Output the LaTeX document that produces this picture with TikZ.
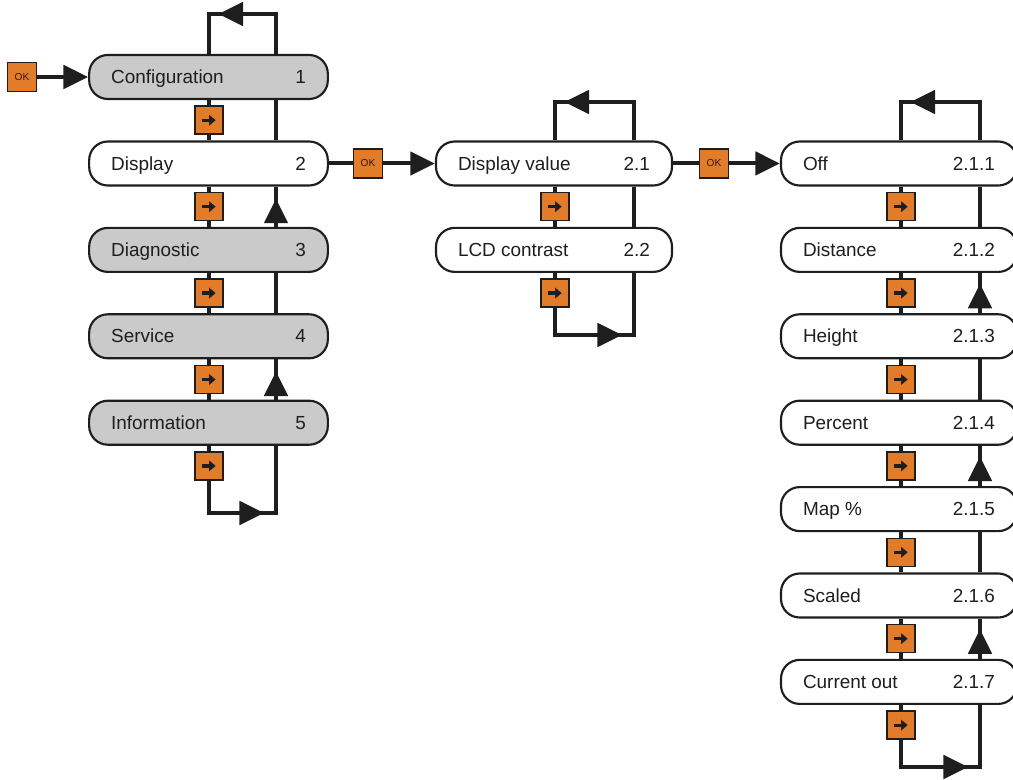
\documentclass[tikz,border=0pt]{standalone}
\usepackage{fontspec}
\setmainfont{Liberation Sans}
\usetikzlibrary{arrows.meta,decorations.markings}
\definecolor{orng}{RGB}{226,124,40}
\definecolor{boxgray}{RGB}{202,202,202}
\definecolor{ink}{RGB}{30,30,30}
\newcommand{\mitem}[3]{\makebox[#1]{#2\hfill#3}}
\begin{document}
\begin{tikzpicture}[x=0.75pt,y=-0.75pt,
  menu/.style={draw=ink, line width=1.6pt, rounded corners=14pt, minimum height=33pt,
    inner xsep=16.5pt, inner ysep=0pt, fill=white, text=ink,
    text height=12.5pt, text depth=2.5pt, font=\fontsize{14.2}{16}\selectfont},
  grey/.style={fill=boxgray},
  conn/.style={draw=ink, line width=3pt},
  bigtip/.tip={Triangle[length=18.5pt,width=17.5pt]},
  tipat/.style={postaction={decorate}, decoration={markings, mark=at position #1 with {\arrow[ink]{bigtip}}}},
  osq/.style={draw=ink, line width=1.1pt, fill=orng, minimum size=21pt, inner sep=0pt,
    path picture={\draw[ink, line width=2.4pt, -{Triangle[length=5pt,width=8pt]}]
      ([xshift=-5.2pt]path picture bounding box.center) -- ([xshift=5pt]path picture bounding box.center);}},
  okbox/.style={draw=ink, line width=1.1pt, fill=orng, minimum size=21.5pt, inner sep=0pt,
    font=\fontsize{7.6}{8}\selectfont, text=ink}
]
\useasboundingbox (0,0) rectangle (1013,780);
\fill[white] (0,0) rectangle (1013,780);

% left column
\node[menu,grey] (cfg)  at (208.5,77)    {\mitem{146pt}{Configuration}{1}};
\node[menu]      (disp) at (208.5,163.5) {\mitem{146pt}{Display}{2}};
\node[menu,grey] (diag) at (208.5,249.9) {\mitem{146pt}{Diagnostic}{3}};
\node[menu,grey] (serv) at (208.5,336.3) {\mitem{146pt}{Service}{4}};
\node[menu,grey] (info) at (208.5,422.7) {\mitem{146pt}{Information}{5}};

% middle column
\node[menu] (dv)  at (554,163.5) {\mitem{144pt}{Display value}{2.1}};
\node[menu] (lcd) at (554,249.9) {\mitem{144pt}{LCD contrast}{2.2}};

% right column
\node[menu] (off)  at (899,163.5) {\mitem{144pt}{Off}{2.1.1}};
\node[menu] (dist) at (899,249.9) {\mitem{144pt}{Distance}{2.1.2}};
\node[menu] (hgt)  at (899,336.3) {\mitem{144pt}{Height}{2.1.3}};
\node[menu] (pct)  at (899,422.7) {\mitem{144pt}{Percent}{2.1.4}};
\node[menu] (map)  at (899,509.1) {\mitem{144pt}{Map \%}{2.1.5}};
\node[menu] (scl)  at (899,595.5) {\mitem{144pt}{Scaled}{2.1.6}};
\node[menu] (cur)  at (899,681.9) {\mitem{144pt}{Current out}{2.1.7}};

% OK boxes
\node[okbox] (ok1) at (22,77)    {OK};
\node[okbox] (ok2) at (368,163.5) {OK};
\node[okbox] (ok3) at (714,163.5) {OK};

% orange step squares
\node[osq] (sA) at (209,120.2) {};
\node[osq] (sB) at (209,206.7) {};
\node[osq] (sC) at (209,293.1) {};
\node[osq] (sD) at (209,379.5) {};
\node[osq] (sE) at (209,465.9) {};
\node[osq] (sF) at (555,206.7) {};
\node[osq] (sG) at (555,293.1) {};
\node[osq] (sH) at (901,206.7) {};
\node[osq] (sI) at (901,293.1) {};
\node[osq] (sJ) at (901,379.5) {};
\node[osq] (sK) at (901,465.9) {};
\node[osq] (sL) at (901,552.3) {};
\node[osq] (sM) at (901,638.7) {};
\node[osq] (sN) at (901,725.1) {};

% loop corners
\coordinate (R1) at (276,0);
\coordinate (R2) at (634,0);
\coordinate (R3) at (980,0);
\coordinate (lt1) at (276,14);  \coordinate (lt2) at (209,14);
\coordinate (lb1) at (209,513); \coordinate (lb2) at (276,513);
\coordinate (mt1) at (634,102); \coordinate (mt2) at (555,102);
\coordinate (mb1) at (555,335); \coordinate (mb2) at (634,335);
\coordinate (rt1) at (980,102); \coordinate (rt2) at (901,102);
\coordinate (rb1) at (901,767); \coordinate (rb2) at (980,767);

% entry arrows
\draw[conn,-bigtip] (ok1) -- (cfg.west);
\draw[conn] (disp.east) -- (ok2);
\draw[conn,-bigtip] (ok2) -- (dv.west);
\draw[conn] (dv.east) -- (ok3);
\draw[conn,-bigtip] (ok3) -- (off.west);

% left column steps
\draw[conn] (cfg.south -| sA) -- (sA);  \draw[conn] (sA) -- (disp.north -| sA);
\draw[conn] (disp.south -| sB) -- (sB); \draw[conn] (sB) -- (diag.north -| sB);
\draw[conn] (diag.south -| sC) -- (sC); \draw[conn] (sC) -- (serv.north -| sC);
\draw[conn] (serv.south -| sD) -- (sD); \draw[conn] (sD) -- (info.north -| sD);
\draw[conn] (info.south -| sE) -- (sE);
\draw[conn] (sE) -- (lb1) -- (lb2) -- (info.south -| lb2);
\draw[conn,tipat=-9pt] (lb1) -- (lb2);
\draw[conn,tipat=-9pt] (info.north -| R1) -- (serv.south -| R1);
\draw[conn] (serv.north -| R1) -- (diag.south -| R1);
\draw[conn,tipat=-9pt] (diag.north -| R1) -- (disp.south -| R1);
\draw[conn] (disp.north -| R1) -- (cfg.south -| R1);
\draw[conn] (cfg.north -| lt1) -- (lt1) -- (lt2) -- (cfg.north -| lt2);
\draw[conn,tipat=-7pt] (lt1) -- (lt2);

% middle column
\draw[conn] (dv.south -| sF) -- (sF); \draw[conn] (sF) -- (lcd.north -| sF);
\draw[conn] (lcd.south -| sG) -- (sG);
\draw[conn] (sG) -- (mb1) -- (mb2) -- (lcd.south -| mb2);
\draw[conn,tipat=-9pt] (mb1) -- (mb2);
\draw[conn] (lcd.north -| R2) -- (dv.south -| R2);
\draw[conn] (dv.north -| mt1) -- (mt1) -- (mt2) -- (dv.north -| mt2);
\draw[conn,tipat=-7pt] (mt1) -- (mt2);

% right column
\draw[conn] (off.south -| sH) -- (sH);  \draw[conn] (sH) -- (dist.north -| sH);
\draw[conn] (dist.south -| sI) -- (sI); \draw[conn] (sI) -- (hgt.north -| sI);
\draw[conn] (hgt.south -| sJ) -- (sJ);  \draw[conn] (sJ) -- (pct.north -| sJ);
\draw[conn] (pct.south -| sK) -- (sK);  \draw[conn] (sK) -- (map.north -| sK);
\draw[conn] (map.south -| sL) -- (sL);  \draw[conn] (sL) -- (scl.north -| sL);
\draw[conn] (scl.south -| sM) -- (sM);  \draw[conn] (sM) -- (cur.north -| sM);
\draw[conn] (cur.south -| sN) -- (sN);
\draw[conn] (sN) -- (rb1) -- (rb2) -- (cur.south -| rb2);
\draw[conn,tipat=-9pt] (rb1) -- (rb2);
\draw[conn,tipat=-8pt] (cur.north -| R3) -- (scl.south -| R3);
\draw[conn] (scl.north -| R3) -- (map.south -| R3);
\draw[conn,tipat=-8pt] (map.north -| R3) -- (pct.south -| R3);
\draw[conn] (pct.north -| R3) -- (hgt.south -| R3);
\draw[conn,tipat=-8pt] (hgt.north -| R3) -- (dist.south -| R3);
\draw[conn] (dist.north -| R3) -- (off.south -| R3);
\draw[conn] (off.north -| rt1) -- (rt1) -- (rt2) -- (off.north -| rt2);
\draw[conn,tipat=-7pt] (rt1) -- (rt2);
\end{tikzpicture}
\end{document}
